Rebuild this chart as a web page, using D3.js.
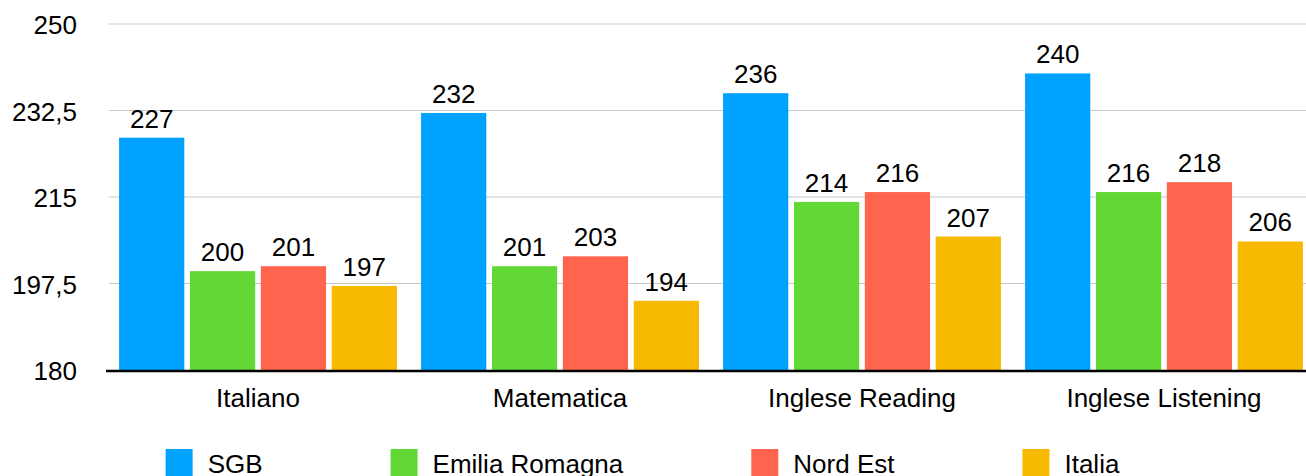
<!DOCTYPE html>
<html>
<head>
<meta charset="utf-8">
<script src="https://cdn.jsdelivr.net/npm/d3@7"></script>
<style>
  body { margin: 0; background: #fff; }
  text { font-family: "Liberation Sans", Arial, Helvetica, sans-serif; fill: #000; }
</style>
</head>
<body>
<div id="chart"></div>
<script>
// dati del grafico
var categories = ["Italiano", "Matematica", "Inglese Reading", "Inglese Listening"];
var seriesNames = ["SGB", "Emilia Romagna", "Nord Est", "Italia"];
var sgb = [227, 232, 236, 240];
var emiliaRomagna = [200, 201, 214, 216];
var nordEst = [201, 203, 216, 218];
var italia = [197, 194, 207, 206];
var yTicks = [180, 197.5, 215, 232.5, 250];

var series = [sgb, emiliaRomagna, nordEst, italia];
var colors = ["#00a2ff", "#61d836", "#ff644e", "#f8ba00"];

var w = 1306;
var h = 476;
var plotLeft = 107;
var plotRight = 1315;
var plotTop = 24;
var plotBottom = 370;
var fontSize = 26;

var svg = d3.select("#chart")
  .append("svg")
  .attr("width", w)
  .attr("height", h);

// scale
var x0 = d3.scaleBand()
  .domain(categories)
  .range([plotLeft, plotRight])
  .paddingInner(0.08)
  .paddingOuter(0.04);

var x1 = d3.scaleBand()
  .domain(d3.range(seriesNames.length))
  .range([0, x0.bandwidth()])
  .paddingInner(0.08);

var y = d3.scaleLinear()
  .domain([180, 250])
  .range([plotBottom, plotTop]);

// griglia
svg.append("g")
  .selectAll("line")
  .data(yTicks.slice(1))
  .enter()
  .append("line")
  .attr("x1", plotLeft + 2)
  .attr("x2", w)
  .attr("y1", function(d) { return y(d); })
  .attr("y2", function(d) { return y(d); })
  .style("stroke", "#c8c8c8")
  .style("stroke-width", 1.2);

// etichette asse y
svg.append("g")
  .selectAll("text")
  .data(yTicks)
  .enter()
  .append("text")
  .attr("x", 77)
  .attr("y", function(d) { return y(d); })
  .attr("dy", "0.4em")
  .attr("text-anchor", "end")
  .style("font-size", fontSize + "px")
  .text(function(d) { return String(d).replace(".", ","); });

// barre
var groups = svg.append("g")
  .selectAll("g")
  .data(categories)
  .enter()
  .append("g")
  .attr("transform", function(d) { return "translate(" + x0(d) + ",0)"; });

groups.selectAll("rect")
  .data(function(d, ci) {
    return series.map(function(s, si) { return { si: si, v: s[ci] }; });
  })
  .enter()
  .append("rect")
  .attr("x", function(d) { return x1(d.si); })
  .attr("width", x1.bandwidth())
  .attr("y", function(d) { return y(d.v); })
  .attr("height", function(d) { return plotBottom - y(d.v); })
  .attr("fill", function(d) { return colors[d.si]; });

groups.selectAll("text.value")
  .data(function(d, ci) {
    return series.map(function(s, si) { return { si: si, v: s[ci] }; });
  })
  .enter()
  .append("text")
  .attr("class", "value")
  .attr("x", function(d) { return x1(d.si) + x1.bandwidth() / 2; })
  .attr("y", function(d) { return y(d.v) - 10; })
  .attr("text-anchor", "middle")
  .style("font-size", fontSize + "px")
  .text(function(d) { return d.v; });

// asse x
svg.append("line")
  .attr("x1", plotLeft - 1)
  .attr("x2", w)
  .attr("y1", plotBottom + 1)
  .attr("y2", plotBottom + 1)
  .style("stroke", "#000")
  .style("stroke-width", 2.5);

svg.append("g")
  .selectAll("text")
  .data(categories)
  .enter()
  .append("text")
  .attr("x", function(d) { return x0(d) + x0.bandwidth() / 2; })
  .attr("y", 407)
  .attr("text-anchor", "middle")
  .style("font-size", fontSize + "px")
  .text(function(d) { return d; });

// legenda
var legend = svg.append("g");
var items = legend.selectAll("g")
  .data(seriesNames)
  .enter()
  .append("g");

items.append("rect")
  .attr("x", 0)
  .attr("y", 449)
  .attr("width", 27)
  .attr("height", 27)
  .attr("fill", function(d, i) { return colors[i]; });

items.append("text")
  .attr("x", 42)
  .attr("y", 473)
  .style("font-size", fontSize + "px")
  .text(function(d) { return d; });

// posizione degli elementi in base alla larghezza del testo
var pos = 0;
var offsets = [];
items.each(function() {
  offsets.push(pos);
  var tw = d3.select(this).select("text").node().getComputedTextLength();
  pos += 42 + tw + 128;
});
var total = pos - 128;
var start = 642.5 - total / 2;
items.attr("transform", function(d, i) { return "translate(" + (start + offsets[i]) + ",0)"; });
</script>
</body>
</html>
